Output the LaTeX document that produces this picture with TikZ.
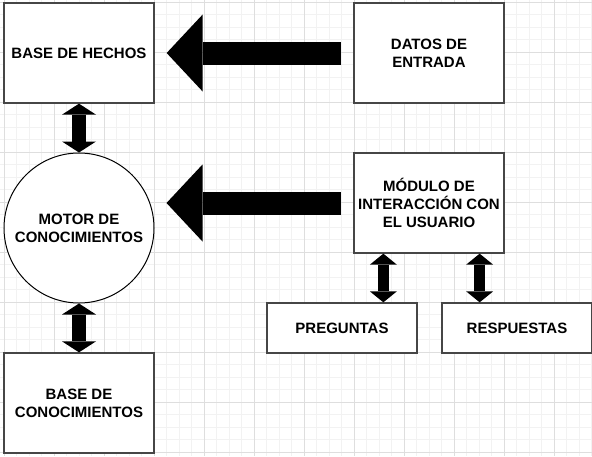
\documentclass[tikz,border=0pt]{standalone}
\usepackage{fontspec}
\setmainfont{Liberation Sans}
\usetikzlibrary{arrows.meta}
\definecolor{gminorc}{RGB}{242,242,242}
\definecolor{gmajorc}{RGB}{222,222,222}
\definecolor{boxline}{RGB}{70,70,70}
\tikzset{
  gminor/.style={draw=gminorc, line width=1pt},
  gmajor/.style={draw=gmajorc, line width=1pt},
  box/.style={draw=boxline, fill=white, line width=1.3pt, minimum width=150pt, minimum height=100pt,
    inner sep=0pt, align=center, font=\fontsize{15}{18}\selectfont\bfseries},
  circ/.style={draw=black, fill=white, line width=1pt, circle, minimum size=150pt, inner sep=0pt,
    align=center, font=\fontsize{15}{18}\selectfont\bfseries},
  bigarrow/.style={line width=23pt, -{Triangle[length=36pt,width=77pt,line width=0pt]},
    shorten <=12pt, shorten >=12pt},
  dblarrow/.style={line width=14pt, {Triangle[length=11pt,width=34pt,line width=0pt]}-{Triangle[length=11pt,width=34pt,line width=0pt]}},
  smallarrow/.style={line width=11pt, {Triangle[length=11pt,width=27pt,line width=0pt]}-{Triangle[length=11pt,width=27pt,line width=0pt]}}
}
\begin{document}
\begin{tikzpicture}[x=1pt,y=-1pt]
\useasboundingbox (0,0) rectangle (592,456);
\fill[white] (0,0) rectangle (592,456);
% grid
\foreach \i in {0,...,47} {\draw[gminor] ({4.3+12.5*\i},0) -- ++(0,456);}
\foreach \j in {0,...,36} {\draw[gminor] (0,{2.3+12.5*\j}) -- ++(592,0);}
\foreach \i in {0,...,11} {\draw[gmajor] ({4.3+50*\i},0) -- ++(0,456);}
\foreach \j in {0,...,9} {\draw[gmajor] (0,{2.3+50*\j}) -- ++(592,0);}
% nodes
\node[box] (hechos) at (79,53) {BASE DE HECHOS};
\node[box] (datos) at (429,53) {DATOS DE\\ENTRADA};
\node[circ] (motor) at (79,228) {MOTOR DE\\CONOCIMIENTOS};
\node[box] (modulo) at (429,203) {MÓDULO DE\\INTERACCIÓN CON\\EL USUARIO};
\node[box, minimum height=50pt] (preg) at (342,328) {PREGUNTAS};
\node[box, minimum height=50pt] (resp) at (517,328) {RESPUESTAS};
\node[box] (bconoc) at (79,403) {BASE DE\\CONOCIMIENTOS};
% connectors
\draw[bigarrow] (datos.west) -- (hechos.east);
\draw[bigarrow] (modulo.west) -- (modulo.west -| motor.east);
\draw[dblarrow] (hechos.south) -- (motor.north);
\draw[dblarrow] (motor.south) -- (bconoc.north);
\coordinate (pa) at ([xshift=30pt]modulo.south west);
\coordinate (ra) at ([xshift=-25pt]modulo.south east);
\draw[smallarrow] (pa) -- (pa |- preg.north);
\draw[smallarrow] (ra) -- (ra |- resp.north);
\end{tikzpicture}
\end{document}
